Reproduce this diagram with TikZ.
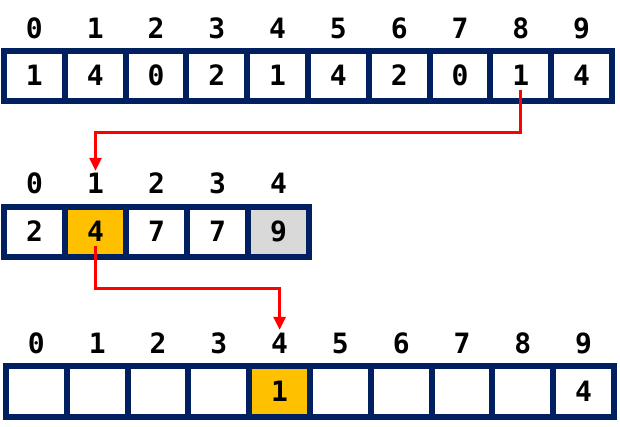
\documentclass[tikz,border=0pt]{standalone}
\usepackage{fontspec}
\setmainfont{DejaVu Sans Mono}
\usetikzlibrary{arrows.meta}
\definecolor{navy}{HTML}{002060}
\definecolor{gold}{HTML}{FFC000}
\definecolor{lgray}{HTML}{D9D9D9}
\tikzset{
  cell/.style={draw=navy, line width=6pt, minimum width=60.8pt, minimum height=50.5pt, inner sep=0pt, text height=20pt, text depth=0pt, font=\bfseries\fontsize{28}{32}\selectfont},
  idx/.style={inner sep=3pt, text height=20pt, text depth=0pt, font=\bfseries\fontsize{28}{32}\selectfont},
  link/.style={draw=red, line width=3pt, -{Triangle[length=13pt,width=12pt]}}
}
\begin{document}
\begin{tikzpicture}[x=1pt, y=-1pt]
\useasboundingbox (0,0) rectangle (620,427);
% Arreglo de entrada
\foreach \v [count=\i from 0] in {1,4,0,2,1,4,2,0,1,4} {
  \node[idx] (ia\i) at (34.4+60.8*\i, 29) {\i};
  \node[cell, fill=white] (a\i) at (34.4+60.8*\i, 76) {\v};
}
% Arreglo de conteo
\foreach \v/\f [count=\i from 0] in {2/white,4/gold,7/white,7/white,9/lgray} {
  \node[idx] (ic\i) at (34.5+61*\i, 184) {\i};
  \node[cell, fill=\f, minimum width=61pt, minimum height=50pt] (c\i) at (34.5+61*\i, 232) {\v};
}
% Arreglo de salida
\foreach \v/\f [count=\i from 0] in { /white, /white, /white, /white,1/gold, /white, /white, /white, /white,4/white} {
  \node[idx] (ib\i) at (36.4+60.8*\i, 343) {\i};
  \node[cell, fill=\f, minimum height=51pt] (b\i) at (36.4+60.8*\i, 391.5) {\v};
}

% Conexiones
\draw[link] ([yshift=-14pt]a8.center) -- ++(0,43) -| (ic1.north);
\draw[link] ([yshift=-14pt]c1.center) -- ++(0,42) -| (ib4.north);
\end{tikzpicture}
\end{document}
